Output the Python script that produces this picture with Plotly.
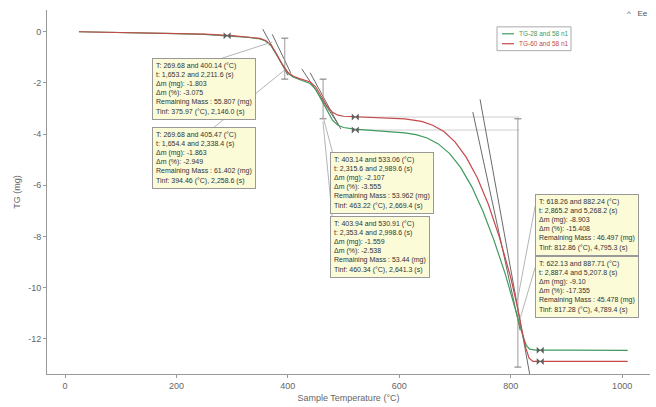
import plotly.graph_objects as go

# ---- data -------------------------------------------------------------
temp_green = [25, 60, 100, 150, 200, 250, 300, 330, 350, 360, 370, 380, 390, 400,
              410, 420, 430, 440, 450, 460, 470, 480, 490, 500, 520, 550, 580, 610,
              630, 650, 670, 690, 710, 730, 750, 770, 790, 805, 815, 822, 828, 834,
              845, 900, 1010]
mass_green = [0.00, -0.01, -0.03, -0.05, -0.07, -0.10, -0.17, -0.22, -0.28, -0.36,
              -0.55, -0.90, -1.30, -1.62, -1.78, -1.86, -1.93, -2.02, -2.25, -2.65,
              -3.10, -3.45, -3.65, -3.74, -3.80, -3.85, -3.89, -3.95, -4.02, -4.15,
              -4.38, -4.75, -5.30, -6.05, -7.00, -8.15, -9.45, -10.55, -11.35, -11.90,
              -12.25, -12.40, -12.44, -12.44, -12.45]

temp_red = [25, 60, 100, 150, 200, 250, 300, 330, 350, 360, 370, 380, 390, 400,
            410, 420, 430, 440, 450, 460, 470, 480, 490, 500, 520, 550, 580, 610,
            640, 660, 680, 700, 720, 740, 760, 780, 800, 812, 820, 827, 833, 840,
            900, 1010]
mass_red = [0.00, -0.01, -0.02, -0.04, -0.06, -0.09, -0.15, -0.20, -0.26, -0.34,
            -0.52, -0.88, -1.28, -1.58, -1.74, -1.82, -1.88, -1.96, -2.15, -2.50,
            -2.90, -3.15, -3.26, -3.30, -3.32, -3.34, -3.36, -3.40, -3.50, -3.65,
            -3.90, -4.30, -4.90, -5.70, -6.75, -8.05, -9.60, -10.75, -11.65, -12.35,
            -12.75, -12.88, -12.88, -12.88]

series_names = ["TG-28 and 58 n1", "TG-60 and 58 n1"]
series_colors = ["#3f9a5e", "#c44a4a"]

# step limit markers
limit_temp = [291, 521, 521, 853, 853]
limit_mass = [-0.16, -3.33, -3.84, -12.44, -12.88]

# inflection (Tinf) measurement lines: temperature, start mass, end mass
tinf_temp = [394.46, 463.22, 812.86]
tinf_top = [-0.25, -1.85, -3.40]
tinf_bottom = [-1.85, -3.40, -13.10]

# tangent lines at inflection points: (T1, m1, T2, m2)
tangents = [
    (355, 0.10, 400, -1.70),
    (372, -0.10, 405, -1.60),
    (425, -1.45, 490, -3.60),
    (440, -1.60, 495, -3.80),
    (745, -2.64, 835, -13.49),
    (732, -3.14, 817, -11.67),
]

# step result tables
step_boxes = [
    (156, -1.01, ["T: 269.68 and 400.14 (°C)", "t: 1,653.2 and 2,211.6 (s)",
                  "Δm (mg): -1.803", "Δm (%): -3.075",
                  "Remaining Mass : 55.807 (mg)", "Tinf: 375.97 (°C), 2,146.0 (s)"]),
    (156, -3.72, ["T: 269.68 and 405.47 (°C)", "t: 1,654.4 and 2,338.4 (s)",
                  "Δm (mg): -1.863", "Δm (%): -2.949",
                  "Remaining Mass : 61.402 (mg)", "Tinf: 394.46 (°C), 2,258.6 (s)"]),
    (476, -4.69, ["T: 403.14 and 533.06 (°C)", "t: 2,315.6 and 2,989.6 (s)",
                  "Δm (mg): -2.107", "Δm (%): -3.555",
                  "Remaining Mass : 53.962 (mg)", "Tinf: 463.22 (°C), 2,669.4 (s)"]),
    (476, -7.21, ["T: 403.94 and 530.91 (°C)", "t: 2,353.4 and 2,998.6 (s)",
                  "Δm (mg): -1.559", "Δm (%): -2.538",
                  "Remaining Mass : 53.44 (mg)", "Tinf: 460.34 (°C), 2,641.3 (s)"]),
    (844, -6.32, ["T: 618.26 and 882.24 (°C)", "t: 2,865.2 and 5,268.2 (s)",
                  "Δm (mg): -8.903", "Δm (%): -15.408",
                  "Remaining Mass : 46.497 (mg)", "Tinf: 812.86 (°C), 4,795.3 (s)"]),
    (844, -8.76, ["T: 622.13 and 887.71 (°C)", "t: 2,887.4 and 5,207.8 (s)",
                  "Δm (mg): -9.10", "Δm (%): -17.355",
                  "Remaining Mass : 45.478 (mg)", "Tinf: 817.28 (°C), 4,789.4 (s)"]),
]

x_ticks = [0, 200, 400, 600, 800, 1000]
y_ticks = [0, -2, -4, -6, -8, -10, -12]
y_tick_text = ["0", "-2", "-4", "-6", "-8", "-10", "-12"]

# ---- figure -----------------------------------------------------------
fig = go.Figure()

# light reference levels of the last step
for m in [-3.33, -3.84]:
    fig.add_trace(go.Scatter(x=[521, 815], y=[m, m], mode="lines",
                             line=dict(color="#cfcfcf", width=1),
                             showlegend=False, hoverinfo="skip"))

# tangent lines
for t1, m1, t2, m2 in tangents:
    fig.add_trace(go.Scatter(x=[t1, t2], y=[m1, m2], mode="lines",
                             line=dict(color="#6a6a6a", width=1),
                             showlegend=False, hoverinfo="skip"))

# Tinf vertical measurement lines
for t, a, b in zip(tinf_temp, tinf_top, tinf_bottom):
    fig.add_trace(go.Scatter(x=[t, t], y=[a, b], mode="lines+markers",
                             line=dict(color="#9a9a9a", width=1),
                             marker=dict(symbol="line-ew", size=5,
                                         line=dict(color="#777", width=1)),
                             showlegend=False, hoverinfo="skip"))

# the TG curves
for tx, my, name, col in [(temp_green, mass_green, series_names[0], series_colors[0]),
                          (temp_red, mass_red, series_names[1], series_colors[1])]:
    fig.add_trace(go.Scatter(x=tx, y=my, mode="lines", name=name,
                             line=dict(color=col, width=1.2), showlegend=False))

# step limit markers
fig.add_trace(go.Scatter(x=limit_temp, y=limit_mass, mode="markers",
                         marker=dict(symbol="bowtie", size=7, color="#606060",
                                     line=dict(color="#606060", width=0)),
                         showlegend=False, hoverinfo="skip"))

# connectors from the tables to the curves
connectors = [
    (258, -1.2, 372, -0.4),
    (258, -3.9, 394, -1.5),
    (480, -4.7, 463, -3.3),
    (480, -7.3, 463, -3.5),
    (844, -6.8, 812, -10.5),
    (844, -9.2, 817, -11.2),
]
for t1, m1, t2, m2 in connectors:
    fig.add_shape(type="line", x0=t1, y0=m1, x1=t2, y1=m2,
                  line=dict(color="#b5b5b5", width=1))

for t, m, lines in step_boxes:
    fig.add_annotation(x=t, y=m, xref="x", yref="y", xanchor="left", yanchor="top",
                       text="<br>".join(lines), showarrow=False, align="left",
                       font=dict(family="Liberation Sans", size=7, color="#333"),
                       bgcolor="#fbfbd8", bordercolor="#999", borderwidth=1,
                       borderpad=3)

# compact legend box in the upper right
def px_x(p):
    return (p - 47) / 603


def px_y(p):
    return 1 - (p - 10) / 367


fig.add_shape(type="rect", xref="paper", yref="paper",
              x0=px_x(497), x1=px_x(571), y0=px_y(51), y1=px_y(27),
              line=dict(color="#aaa", width=1), fillcolor="white", layer="above")
for i, (name, col) in enumerate(zip(series_names, series_colors)):
    yy = px_y(34 + 10 * i)
    fig.add_shape(type="line", xref="paper", yref="paper",
                  x0=px_x(502), x1=px_x(514), y0=yy, y1=yy,
                  line=dict(color=col, width=1.2), layer="above")
    fig.add_annotation(x=px_x(517), y=yy, xref="paper", yref="paper",
                       xanchor="left", yanchor="middle", text=name, showarrow=False,
                       font=dict(family="Liberation Sans", size=6.5, color=col))

fig.add_annotation(x=1.0, y=1.0, xref="paper", yref="paper", xanchor="right",
                   yanchor="bottom", yshift=-10, text="^   Ee", showarrow=False,
                   font=dict(family="Liberation Sans", size=8, color="#555"))

fig.update_layout(
    width=656, height=407,
    margin=dict(l=47, r=6, t=10, b=30),
    paper_bgcolor="white", plot_bgcolor="white",
    showlegend=False,
    font=dict(family="Liberation Sans", size=9, color="#666"),
    xaxis=dict(range=[-32.3, 1050], tickvals=x_ticks, showgrid=False,
               zeroline=False, showline=True, linecolor="#999", ticks="outside",
               ticklen=3, tickcolor="#999",
               title=dict(text="Sample Temperature (°C)", standoff=4,
                          font=dict(size=9, color="#666"))),
    yaxis=dict(range=[-13.37, 0.85], tickvals=y_ticks, ticktext=y_tick_text,
               showgrid=False, zeroline=False, showline=True, linecolor="#999",
               ticks="outside", ticklen=3, tickcolor="#999",
               title=dict(text="TG (mg)", standoff=6,
                          font=dict(size=9, color="#666"))),
)

fig.write_html("out.html")
